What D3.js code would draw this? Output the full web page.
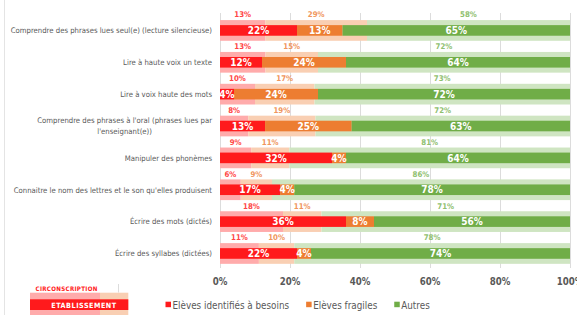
<!DOCTYPE html>
<html><head><meta charset="utf-8">
<script src="https://cdn.jsdelivr.net/npm/d3@7"></script>
<style>
html,body{margin:0;padding:0;background:#fff;}
svg{display:block;}
text{font-family:"DejaVu Sans Condensed","Liberation Sans Narrow","Roboto",sans-serif;}
</style></head>
<body><svg id="c" width="577" height="315"></svg>
<script>
const categories = [
  "Comprendre des phrases lues seul(e) (lecture silencieuse)",
  "Lire à haute voix un texte",
  "Lire à voix haute des mots",
  "Comprendre des phrases à l'oral (phrases lues par l'enseignant(e))",
  "Manipuler des phonèmes",
  "Connaitre le nom des lettres et le son qu'elles produisent",
  "Écrire des mots (dictés)",
  "Écrire des syllabes (dictées)"
];
const seriesNames = ["Elèves identifiés à besoins", "Elèves fragiles", "Autres"];
// Etablissement
const etabBesoins  = [22, 12, 4, 13, 32, 17, 36, 22];
const etabFragiles = [13, 24, 24, 25, 4, 4, 8, 4];
const etabAutres   = [65, 64, 72, 63, 64, 78, 56, 74];
// Circonscription
const circBesoins  = [13, 13, 10, 8, 9, 6, 18, 11];
const circFragiles = [29, 15, 17, 19, 11, 9, 11, 10];
const circAutres   = [58, 72, 73, 72, 81, 86, 71, 78];
const xTicks = [0, 20, 40, 60, 80, 100];
const xTickLabels = ["0%", "20%", "40%", "60%", "80%", "100%"];

const colors = ["#ff1a1c", "#ed7d31", "#70ad47"];
const paleColors = ["#ffabab", "#f9cfb3", "#cfe5c2"];
const topLabelColors = ["#ff4545", "#f0955c", "#8fc06f"];
const textGrey = "#595959";

const svg = d3.select("#c");
const x = d3.scaleLinear().domain([0, 100]).range([220, 570]);
const y = d3.scaleBand().domain(categories).range([14.5, 269.4]).paddingInner(0);
const xr = d3.scaleLinear().domain([0, 1]).range([220, 570]);

function rows(a, b, c) {
  return categories.map((cat, i) => ({cat, s0: a[i], s1: b[i], s2: c[i]}));
}
const keys = ["s0", "s1", "s2"];
const stack = d3.stack().keys(keys).offset(d3.stackOffsetExpand);
const circStack = stack(rows(circBesoins, circFragiles, circAutres));
const etabStack = stack(rows(etabBesoins, etabFragiles, etabAutres));

// left border
svg.append("line").attr("x1", 4.5).attr("x2", 4.5).attr("y1", 0).attr("y2", 315)
  .attr("stroke", "#e4e4e4").attr("stroke-width", 1);

// gridlines
svg.append("g").selectAll("line").data(xTicks).join("line")
  .attr("x1", d => Math.round(x(d)) + 0.5).attr("x2", d => Math.round(x(d)) + 0.5)
  .attr("y1", 13).attr("y2", 268)
  .attr("stroke", "#dcdcdc").attr("stroke-width", 1);

const rowC = cat => y(cat) + y.bandwidth() / 2;
const bgH = 20.7, fgH = 10.6;

// background (circonscription) bands
circStack.forEach((layer, li) => {
  svg.append("g").selectAll("rect").data(layer).join("rect")
    .attr("x", d => xr(d[0])).attr("width", d => Math.min(xr(d[1]), 570) - xr(d[0]))
    .attr("y", d => rowC(d.data.cat) - bgH / 2).attr("height", bgH)
    .attr("fill", paleColors[li]);
});
// foreground (etablissement) bars
etabStack.forEach((layer, li) => {
  svg.append("g").selectAll("rect").data(layer).join("rect")
    .attr("x", d => xr(d[0])).attr("width", d => xr(d[1]) - xr(d[0]))
    .attr("y", d => rowC(d.data.cat) - fgH / 2).attr("height", fgH)
    .attr("fill", colors[li]);
});
// top labels (circonscription values)
circStack.forEach((layer, li) => {
  svg.append("g").selectAll("text").data(layer).join("text")
    .attr("x", d => xr((d[0] + d[1]) / 2))
    .attr("y", d => rowC(d.data.cat) - 15.9 + 2.8)
    .attr("text-anchor", "middle")
    .attr("font-size", 7.8).attr("font-weight", "bold")
    .attr("fill", topLabelColors[li])
    .text(d => d.data[keys[li]] + "%");
});
// bar value labels
etabStack.forEach((layer, li) => {
  svg.append("g").selectAll("text").data(layer).join("text")
    .attr("x", d => xr((d[0] + d[1]) / 2))
    .attr("y", d => rowC(d.data.cat) + 3.7)
    .attr("text-anchor", "middle")
    .attr("font-size", 10).attr("font-weight", "bold")
    .attr("fill", "#ffffff")
    .text(d => d.data[keys[li]] + "%");
});

// category labels
const catFs = 7.7;
const catG = svg.append("g");
categories.forEach(cat => {
  const t = catG.append("text").attr("font-size", catFs).attr("fill", textGrey)
    .attr("text-anchor", "end").attr("x", 212).attr("y", rowC(cat) + 2.8).text(cat);
  const w = t.node().getComputedTextLength();
  if (w > 210) {
    const words = cat.split(" ");
    const lines = [];
    let cur = [];
    t.text("");
    const probe = catG.append("text").attr("font-size", catFs);
    words.forEach(wd => {
      const test = cur.concat([wd]).join(" ");
      probe.text(test);
      if (probe.node().getComputedTextLength() > 200 && cur.length) { lines.push(cur.join(" ")); cur = [wd]; }
      else cur.push(wd);
    });
    lines.push(cur.join(" "));
    let maxW = 0;
    lines.forEach(l => { probe.text(l); maxW = Math.max(maxW, probe.node().getComputedTextLength()); });
    probe.remove();
    const lh = 10.7;
    t.attr("text-anchor", "middle").attr("x", 212 - maxW / 2);
    lines.forEach((l, i) => {
      t.append("tspan").attr("x", 212 - maxW / 2)
        .attr("y", rowC(cat) + 2.8 + (i - (lines.length - 1) / 2) * lh).text(l);
    });
  }
});

// x axis tick labels
svg.append("g").selectAll("text").data(xTicks).join("text")
  .attr("x", d => x(d)).attr("y", 285.2).attr("text-anchor", "middle")
  .attr("font-size", 9.6).attr("font-weight", "bold").attr("fill", textGrey)
  .text((d, i) => xTickLabels[i]);

// mini legend illustration (circonscription / etablissement)
const lg = svg.append("g");
lg.append("text").attr("x", 35.5).attr("y", 290.6).attr("font-size", 6.2).attr("font-weight", "bold")
  .attr("letter-spacing", 0.3).attr("fill", colors[0]).text("CIRCONSCRIPTION");
lg.append("line").attr("x1", 118.5).attr("x2", 118.5).attr("y1", 284).attr("y2", 292.5)
  .attr("stroke", "#dcdcdc");
lg.append("rect").attr("x", 30).attr("y", 292.7).attr("width", 70).attr("height", 23).attr("fill", paleColors[0]);
lg.append("rect").attr("x", 100).attr("y", 292.7).attr("width", 28.3).attr("height", 23).attr("fill", paleColors[1]);
lg.append("rect").attr("x", 30).attr("y", 299.3).attr("width", 98.3).attr("height", 10.7).attr("fill", colors[0]);
lg.append("text").attr("x", 84).attr("y", 307.5).attr("text-anchor", "middle").attr("font-size", 7.2)
  .attr("font-weight", "bold").attr("letter-spacing", 0.5).attr("fill", "#fff").text("ETABLISSEMENT");

// series legend
const leg = svg.append("g");
let lx = 165.5;
seriesNames.forEach((name, i) => {
  leg.append("rect").attr("x", lx).attr("y", 301.7).attr("width", 5.5).attr("height", 5.5).attr("fill", colors[i]);
  const t = leg.append("text").attr("x", lx + 7).attr("y", 309.2).attr("font-size", 9.8)
    .attr("fill", textGrey).text(name);
  lx += 7 + t.node().getComputedTextLength() + 17;
});
</script></body></html>
